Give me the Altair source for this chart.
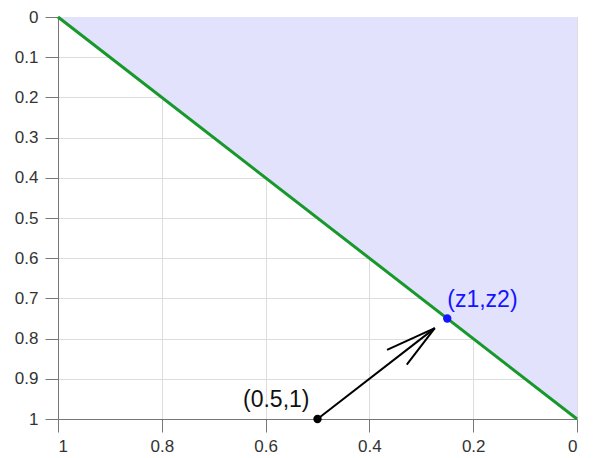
import altair as alt
import pandas as pd

# Data
line_x = [1.0, 0.0]
line_y = [0.0, 1.0]
area_x = [0.0, 1.0]
area_y = [1.0, 0.0]
area_y2 = [0.0, 0.0]
pt_labels = ["(z1,z2)", "(0.5,1)"]
pt_x = [0.25, 0.5]
pt_y = [0.75, 1.0]
arrow_x = [0.5, 0.274, 0.274]
arrow_y = [1.0, 0.774, 0.774]
arrow_x2 = [0.274, 0.366, 0.328]
arrow_y2 = [0.774, 0.828, 0.865]
x_ticks = [1, 0.8, 0.6, 0.4, 0.2, 0]
y_ticks = [0, 0.1, 0.2, 0.3, 0.4, 0.5, 0.6, 0.7, 0.8, 0.9, 1]

xs = alt.Scale(domain=[1, 0], nice=False, zero=False)
ys = alt.Scale(domain=[0, 1], reverse=True, nice=False, zero=False)

axis_common = dict(
    labelFontSize=17, labelColor="#333333", tickColor="#777777", domainColor="#777777",
    tickSize=13, gridColor="#dddddd", labelFont="Liberation Sans", format="~g",
)
xaxis = alt.Axis(values=x_ticks, labelPadding=6, **axis_common)
yaxis = alt.Axis(values=y_ticks, labelPadding=7, **axis_common)

area_df = pd.DataFrame({"x": area_x, "y": area_y, "y2": area_y2})
area = alt.Chart(area_df).mark_area(color="#e2e2fc", opacity=1).encode(
    x=alt.X("x:Q", scale=xs, axis=xaxis, title=None),
    y=alt.Y("y:Q", scale=ys, axis=yaxis, title=None),
    y2="y2:Q",
)

line_df = pd.DataFrame({"x": line_x, "y": line_y})
line = alt.Chart(line_df).mark_line(color="#16992a", strokeWidth=3).encode(
    x=alt.X("x:Q", scale=xs), y=alt.Y("y:Q", scale=ys)
)

arr_df = pd.DataFrame({"x": arrow_x, "y": arrow_y, "x2": arrow_x2, "y2": arrow_y2})
arrow = alt.Chart(arr_df).mark_rule(color="black", strokeWidth=2).encode(
    x=alt.X("x:Q", scale=xs), y=alt.Y("y:Q", scale=ys), x2="x2:Q", y2="y2:Q"
)

pt_df = pd.DataFrame({"label": pt_labels, "x": pt_x, "y": pt_y,
                      "c": ["#1414ff", "#000000"]})
points = alt.Chart(pt_df).mark_circle(size=70, opacity=1).encode(
    x=alt.X("x:Q", scale=xs), y=alt.Y("y:Q", scale=ys),
    color=alt.Color("c:N", scale=None),
)
t1 = alt.Chart(pt_df.iloc[[0]]).mark_text(
    align="left", baseline="middle", dx=0, dy=-19, fontSize=23,
    font="Liberation Sans", color="#1414ff"
).encode(x=alt.X("x:Q", scale=xs), y=alt.Y("y:Q", scale=ys), text="label:N")
t2 = alt.Chart(pt_df.iloc[[1]]).mark_text(
    align="right", baseline="middle", dx=-8, dy=-19, fontSize=23,
    font="Liberation Sans", color="#111111"
).encode(x=alt.X("x:Q", scale=xs), y=alt.Y("y:Q", scale=ys), text="label:N")

chart = alt.layer(area, line, arrow, points, t1, t2).properties(
    width=519, height=402,
    autosize=alt.AutoSizeParams(type="none"),
    padding={"left": 50, "top": 9, "right": 10, "bottom": 39},
).configure_view(stroke="#777777", strokeWidth=1).configure(font="Liberation Sans")

chart.save("out.html", embed_options={"renderer": "svg", "actions": False})
